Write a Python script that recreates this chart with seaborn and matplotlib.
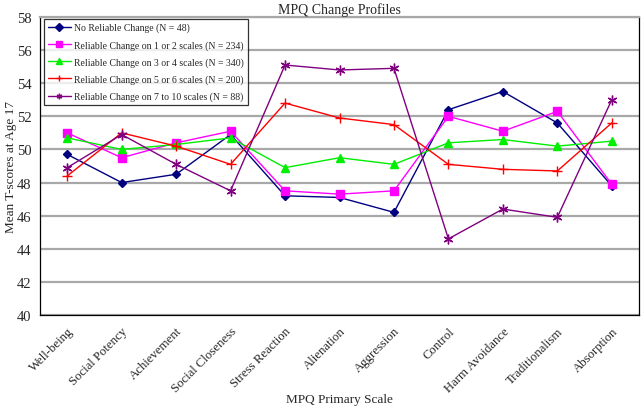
import pandas as pd
import numpy as np
import matplotlib.pyplot as plt
import seaborn as sns

scales = ["Well-being", "Social Potency", "Achievement", "Social Closeness",
          "Stress Reaction", "Alienation", "Aggression", "Control",
          "Harm Avoidance", "Traditionalism", "Absorption"]

no_change = [49.7, 48.0, 48.5, 50.9, 47.2, 47.1, 46.2, 52.4, 53.5, 51.6, 47.8]
change_1_2 = [51.0, 49.5, 50.4, 51.1, 47.5, 47.3, 47.5, 52.0, 51.1, 52.3, 47.9]
change_3_4 = [50.7, 50.0, 50.3, 50.7, 48.9, 49.5, 49.1, 50.4, 50.6, 50.2, 50.5]
change_5_6 = [48.4, 51.0, 50.2, 49.1, 52.8, 51.9, 51.5, 49.1, 48.8, 48.7, 51.6]
change_7_10 = [48.9, 50.9, 49.1, 47.5, 55.1, 54.8, 54.9, 44.6, 46.4, 45.9, 53.0]

group_names = ["No Reliable Change (N = 48)",
               "Reliable Change on 1 or 2 scales (N = 234)",
               "Reliable Change on 3 or 4 scales (N = 340)",
               "Reliable Change on 5 or 6 scales (N = 200)",
               "Reliable Change on 7 to 10 scales (N = 88)"]
group_values = [no_change, change_1_2, change_3_4, change_5_6, change_7_10]

colors = ["#000080", "#FF00FF", "#00EE00", "#FF0000", "#800080"]
markers = ["D", "s", "^", "+", (6, 2, 0)]
msizes = [4, 6, 6, 7, 7]

rows = []
for name, vals in zip(group_names, group_values):
    for s, v in zip(scales, vals):
        rows.append({"scale": s, "score": v, "group": name})
df = pd.DataFrame(rows)
df["scale"] = pd.Categorical(df["scale"], categories=scales, ordered=True)
df["pos"] = df["scale"].cat.codes

sns.set_style("white")
plt.rcParams["font.family"] = ["Liberation Serif", "DejaVu Serif"]

fig = plt.figure(figsize=(6.41, 4.14), dpi=100)
ax = fig.add_axes([40 / 641, 1 - 316 / 414, 599 / 641, 298 / 414])

for name, c, m, ms in zip(group_names, colors, markers, msizes):
    sub = df[df["group"] == name]
    sns.lineplot(data=sub, x="pos", y="score", ax=ax, color=c, marker=m,
                 markersize=ms, markeredgecolor=c, markerfacecolor=c,
                 markeredgewidth=1.0, linewidth=1.0, label=name, sort=False)

ax.set_xlim(-0.5, len(scales) - 0.5)
ax.set_ylim(40, 58)
ax.set_yticks(np.arange(40, 59, 2))
ax.set_xticks(range(len(scales)))
ax.set_xticklabels(scales, rotation=45, ha="right", rotation_mode="anchor",
                   fontsize=9.2)
ax.set_xticks(np.arange(-0.5, len(scales), 1), minor=True)
ax.tick_params(axis="x", which="major", length=0, pad=7)
ax.tick_params(axis="x", which="minor", length=4, width=0.8, color="black",
               direction="out")
ax.tick_params(axis="y", length=4, width=0.8, color="black", direction="out",
               labelsize=10.5, pad=2)
ax.grid(axis="y", color="#A8A8A8", linewidth=1.6)
ax.set_axisbelow(True)
for sp in ax.spines.values():
    sp.set_color("black")
    sp.set_linewidth(0.9)
ax.spines["top"].set_color("#A8A8A8")
ax.spines["top"].set_linewidth(1.6)

ax.set_title("MPQ Change Profiles", fontsize=10, pad=3)
ax.set_xlabel("MPQ Primary Scale", fontsize=9.5, va="center")
ax.xaxis.set_label_coords(0.5, -84 / 298)
ax.set_ylabel("Mean T-scores at Age 17", fontsize=9.5, va="center")
ax.yaxis.set_label_coords(-29 / 599, 0.5)

leg = ax.legend(loc="upper left", bbox_to_anchor=(0.004, 1.0), fontsize=7.0,
                frameon=True, fancybox=False, edgecolor="black",
                handlelength=2.3, borderpad=0.4, labelspacing=0.78,
                handletextpad=0.35, borderaxespad=0.2)
leg.get_frame().set_linewidth(0.9)
for h in leg.legend_handles:
    h.set_markersize(4)

plt.savefig("out.png", dpi=100)
